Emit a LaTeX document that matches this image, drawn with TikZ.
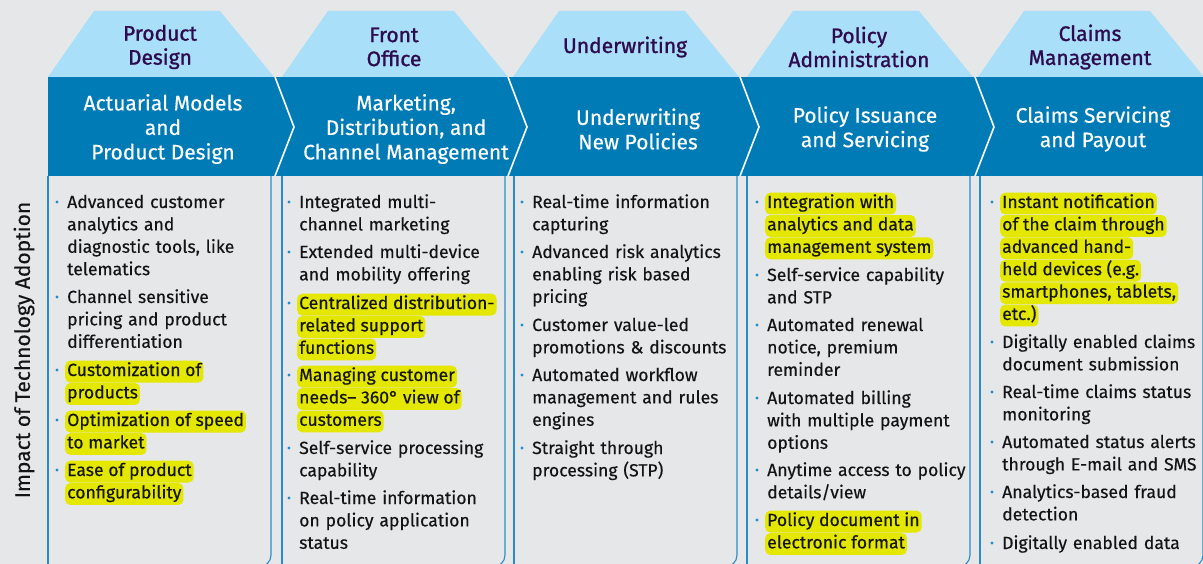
\documentclass[tikz,border=0pt]{standalone}
\usepackage{fontspec}
\setmainfont{Fira Sans}[FakeBold=0.35]
\newfontfamily\headfont{Fira Sans}[FakeBold=1.2]

\definecolor{pagegray}{HTML}{E6E7E9}
\definecolor{tabblue}{HTML}{A9DFF8}
\definecolor{bandblue}{HTML}{007BB6}
\definecolor{headpurple}{HTML}{2E0B4E}
\definecolor{dotblue}{HTML}{1E8CCD}
\definecolor{boxblue}{HTML}{2A8BC9}
\definecolor{hlyellow}{HTML}{E4E700}

\tikzset{
  headtext/.style={text=headpurple, font=\headfont\fontsize{21}{24}\selectfont, align=center},
  bandtext/.style={text=white, font=\fontsize{21}{24.5}\selectfont, align=center},
  itemtext/.style={anchor=base west, inner sep=0pt, text width=235pt, align=left,
                   text=black!92, font=\fontsize{17.6}{22.4}\selectfont},
  hlbox/.style={fill=hlyellow, rounded corners=5pt, inner xsep=2pt, inner ysep=2.5pt,
                text height=12.8pt, text depth=4pt, text width={}},
  boxline/.style={boxblue, line width=1.1pt},
}
\newcommand\hlt[1]{\hspace*{-2pt}\tikz[baseline=(hl.base)]\node[hlbox](hl){#1};}

\begin{document}
\begin{tikzpicture}[x=1pt, y=-1pt]
  \fill[pagegray] (0,0) rectangle (1203,564);
  \useasboundingbox (0,0) rectangle (1203,564);

  % stage tabs
  \foreach \l/\name [count=\i] in {48/{Product\\Design}, 282/{Front\\Office},
      513/Underwriting, 747/{Policy\\Administration}, 978/{Claims\\Management}}{
    \fill[tabblue] (\l,77) -- (\l+46,11) -- (\l+172,11) -- (\l+226,77) -- cycle;
    \node[headtext] (tab\i) at (\l+112,47) {\name};
  }

  % blue chevron band
  \fill[bandblue] (48,77) rectangle (1203,176);
  \foreach \s in {275,508,740,975}
    \draw[white, line width=1.6pt] (\s,77) -- (\s+19,127) -- (\s,176);
  \foreach \x/\txt [count=\i] in {163/{Actuarial Models\\and\\Product Design},
      406/{Marketing,\\Distribution, and\\Channel Management},
      638/{Underwriting\\New Policies}, 865/{Policy Issuance\\and Servicing},
      1093/{Claims Servicing\\and Payout}}
    \node[bandtext] (band\i) at (\x,129) {\txt};

  % column boxes
  \foreach \l in {48,282,514,747,980}{
    \draw[boxline] (\l,176) -- (\l,570);
    \draw[boxline, rounded corners=12pt] (\l+223,176) -- (\l+223,567) -- (\l+190,567);
  }

  \node[rotate=90, text=black!92, font=\fontsize{21}{24}\selectfont] (impact) at (24,350)
    {Impact of Technology Adoption};

  % product design
  \foreach \y/\txt [count=\i] in {
      208/{Advanced customer\\analytics and\\diagnostic tools, like\\telematics},
      303/{Channel sensitive\\pricing and product\\differentiation},
      376/{\hlt{Customization of}\\\hlt{products}},
      426/{\hlt{Optimization of speed}\\\hlt{to market}},
      476/{\hlt{Ease of product}\\\hlt{configurability}}}{
    \node[itemtext] (pd\i) at (67,\y) {\txt};
    \fill[dotblue] (57,\y-6) circle (1.6pt);
  }

  % front office
  \foreach \y/\txt [count=\i] in {
      208/{Integrated multi-\\channel marketing},
      258/{Extended multi-device\\and mobility offering},
      309/{\hlt{Centralized distribution-}\\\hlt{related support}\\\hlt{functions}},
      381/{\hlt{Managing customer}\\\hlt{needs-- 360° view of}\\\hlt{customers}},
      454/{Self-service processing\\capability},
      504/{Real-time information\\on policy application\\status}}{
    \node[itemtext] (fo\i) at (299,\y) {\txt};
    \fill[dotblue] (289,\y-6) circle (1.6pt);
  }

  % underwriting
  \foreach \y/\txt [count=\i] in {
      208/{Real-time information\\capturing},
      258/{Advanced risk analytics\\enabling risk based\\pricing},
      331/{Customer value-led\\promotions \& discounts},
      381/{Automated workflow\\management and rules\\engines},
      454/{Straight through\\processing (STP)}}{
    \node[itemtext] (uw\i) at (532,\y) {\txt};
    \fill[dotblue] (522,\y-6) circle (1.6pt);
  }

  % policy administration
  \foreach \y/\txt [count=\i] in {
      208/{\hlt{Integration with}\\\hlt{analytics and data}\\\hlt{management system}},
      281/{Self-service capability\\and STP},
      331/{Automated renewal\\notice, premium\\reminder},
      404/{Automated billing\\with multiple payment\\options},
      476/{Anytime access to policy\\details/view},
      526/{\hlt{Policy document in}\\\hlt{electronic format}}}{
    \node[itemtext] (pa\i) at (767,\y) {\txt};
    \fill[dotblue] (757,\y-6) circle (1.6pt);
  }

  % claims management
  \foreach \y/\txt [count=\i] in {
      208/{\hlt{Instant notification}\\\hlt{of the claim through}\\\hlt{advanced hand-}\\\hlt{held devices (e.g.}\\\hlt{smartphones, tablets,}\\\hlt{etc.)}},
      348/{Digitally enabled claims\\document submission},
      398/{Real-time claims status\\monitoring},
      448/{Automated status alerts\\through E-mail and SMS},
      498/{Analytics-based fraud\\detection},
      549/{Digitally enabled data}}{
    \node[itemtext] (cm\i) at (1002,\y) {\txt};
    \fill[dotblue] (992,\y-6) circle (1.6pt);
  }
\end{tikzpicture}
\end{document}
